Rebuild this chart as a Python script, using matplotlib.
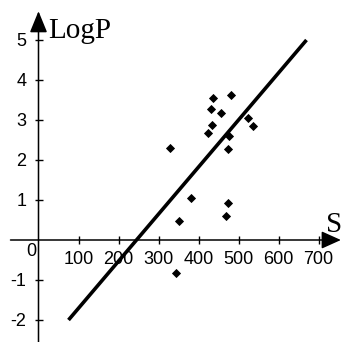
import matplotlib
matplotlib.use("Agg")
import matplotlib.pyplot as plt

# data
s_values = [437, 481, 432, 455, 433, 423, 523, 537, 477, 473, 329, 381, 350, 473, 469, 344]
logp_values = [3.56, 3.63, 3.28, 3.18, 2.87, 2.68, 3.04, 2.85, 2.60, 2.28, 2.29, 1.04, 0.48, 0.92, 0.60, -0.82]
fit_x = [75, 670]
fit_y = [-2.0, 5.0]
x_ticks = [100, 200, 300, 400, 500, 600, 700]
y_ticks = [-2, -1, 1, 2, 3, 4, 5]
x_label = "S"
y_label = "LogP"

fig = plt.figure(figsize=(3.41, 3.42), dpi=100)
ax = fig.add_axes([0, 0, 1, 1])
ax.set_xlim(-96.25, 756.25)
ax.set_ylim(-2.55, 6.0)
ax.axis("off")

# axes lines with arrows
ax.annotate("", xy=(756, 0), xytext=(-70, 0),
            arrowprops=dict(arrowstyle="-|>,head_length=1.0,head_width=0.45", color="black",
                            lw=1.1, mutation_scale=12, shrinkA=0, shrinkB=0))
ax.annotate("", xy=(0, 5.72), xytext=(0, -2.6),
            arrowprops=dict(arrowstyle="-|>,head_length=1.1,head_width=0.45", color="black",
                            lw=1.1, mutation_scale=12, shrinkA=0, shrinkB=0))

# ticks
ax.plot(x_ticks, [0] * len(x_ticks), linestyle="none", marker="|", color="black", ms=6, mew=1.0)
ax.plot([0] * len(y_ticks), y_ticks, linestyle="none", marker="_", color="black", ms=6, mew=1.0)

tick_font = dict(family="Liberation Sans", fontsize=13, color="black")
for t in x_ticks:
    ax.text(t, -0.5, str(t), ha="center", va="center", **tick_font)
for t in y_ticks:
    ax.text(-30, t - 0.04, str(t), ha="right", va="center", **tick_font)
ax.text(-18, -0.3, "0", ha="center", va="center", **tick_font)

label_font = dict(family="Liberation Serif", fontsize=21, color="black")
ax.text(23, 5.04, y_label, ha="left", va="baseline", **label_font)
ax.text(718, 0.2, x_label, ha="left", va="baseline", **label_font)

# regression line
ax.plot(fit_x, fit_y, color="black", lw=2.6, solid_capstyle="butt")

# data points
ax.plot(s_values, logp_values, linestyle="none", marker="D", color="black", ms=4.2, mew=0.6)

fig.savefig("out.png", dpi=100)
